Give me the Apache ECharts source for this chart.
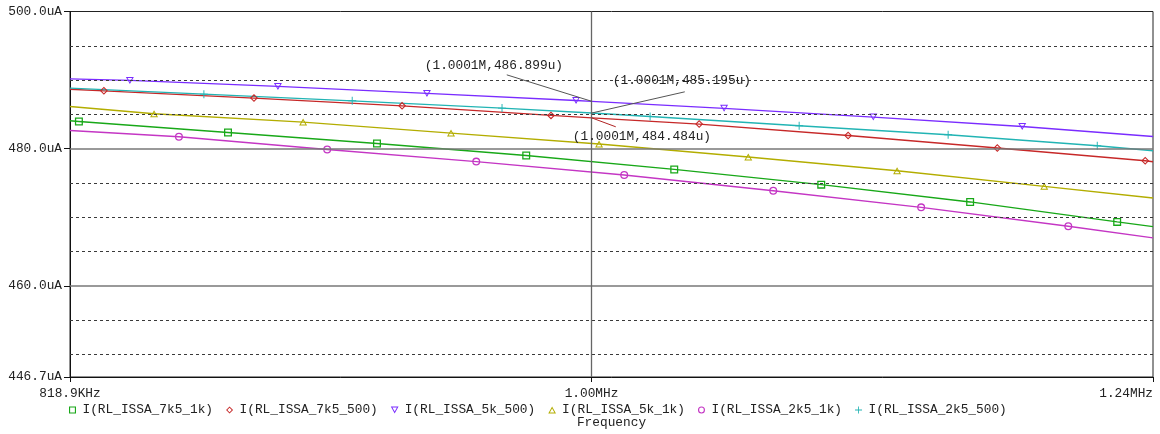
<!DOCTYPE html>
<html>
<head>
<meta charset="utf-8">
<script src="https://cdn.jsdelivr.net/npm/echarts@6/dist/echarts.min.js"></script>
<style>
  html, body { margin: 0; padding: 0; background: #fff; }
  #chart { width: 1160px; height: 434px; }
</style>
</head>
<body>
<div id="chart"></div>
<script>
// Load current versus frequency (kHz, uA) for each resistor combination
const f7k5_1k  = [818.9, 821.7, 870.0, 921.1, 975.3, 1032.2, 1092.0, 1156.1, 1223.1, 1240.0];
const i7k5_1k  = [484.06, 483.96, 482.36, 480.76, 479.01, 476.97, 474.75, 472.23, 469.32, 468.63];

const f7k5_500 = [818.9, 829.6, 878.7, 930.0, 984.6, 1000.1, 1042.1, 1103.3, 1168.2, 1236.3, 1240.0];
const i7k5_500 = [488.67, 488.43, 487.37, 486.24, 484.85, 484.484, 483.58, 481.92, 480.09, 478.24, 478.09];

const f5k_500  = [818.9, 837.9, 886.8, 938.9, 994.1, 1000.1, 1052.1, 1114.0, 1179.4, 1240.0];
const i5k_500  = [490.17, 489.95, 489.08, 488.06, 487.02, 486.899, 485.88, 484.60, 483.23, 481.78];

const f5k_1k   = [818.9, 845.7, 895.4, 947.6, 1002.9, 1061.9, 1124.2, 1189.4, 1240.0];
const i5k_1k   = [486.14, 485.08, 483.87, 482.27, 480.67, 478.78, 476.78, 474.50, 472.81];

const f2k5_1k  = [818.9, 853.8, 903.7, 956.8, 1012.6, 1072.1, 1134.6, 1200.4, 1240.0];
const i2k5_1k  = [482.65, 481.73, 479.87, 478.11, 476.16, 473.87, 471.44, 468.68, 466.99];

const f2k5_500 = [818.9, 862.0, 912.4, 966.3, 1000.1, 1022.7, 1082.8, 1146.4, 1213.8, 1240.0];
const i2k5_500 = [488.82, 487.95, 486.97, 485.91, 485.195, 484.69, 483.33, 482.02, 480.42, 479.69];

// Axis ticks and grid levels
const xTickValues = [818.9, 1000, 1240];
const xTickLabels = ['818.9KHz', '1.00MHz', '1.24MHz'];
const yTickValues = [446.7, 460, 480, 500];
const yTickLabels = ['446.7uA', '460.0uA', '480.0uA', '500.0uA'];
const yGridDashed = [450, 455, 465, 470, 475, 485, 490, 495];
const yGridSolid  = [460, 480];
const xGridSolid  = [1000];

// Cursor readouts at 1.0001 MHz
const cursorFreq = 1000.1;
const cursorTraces = ['I(RL_ISSA_5k_500)', 'I(RL_ISSA_2k5_500)', 'I(RL_ISSA_7k5_500)'];
const cursorValues = [486.899, 485.195, 484.484];

const FONT = "'Liberation Mono', 'DejaVu Sans Mono', monospace";
const FS = 12.8;
const TEXT = '#222';

// Hollow marker outlines (outer contour + reversed inner contour)
const SYM = {
  square:   'path://M0,0H10V10H0Z M1.6,1.6V8.4H8.4V1.6Z',
  diamond:  'path://M5,0L10,5L5,10L0,5Z M5,1.9L1.9,5L5,8.1L8.1,5Z',
  triDown:  'path://M0,0H10L5,9Z M2.1,1.3L5,6.5L7.9,1.3Z',
  triUp:    'path://M5,0L10,9H0Z M5,2.5L2.1,7.7H7.9Z',
  circle:   'path://M5,0A5,5 0 1,1 5,10A5,5 0 1,1 5,0Z M5,1.6A3.4,3.4 0 1,0 5,8.4A3.4,3.4 0 1,0 5,1.6Z',
  plus:     'path://M4.4,0H5.6V4.4H10V5.6H5.6V10H4.4V5.6H0V4.4H4.4Z'
};

const traces = [
  { name: 'I(RL_ISSA_7k5_1k)',  f: f7k5_1k,  v: i7k5_1k,  color: '#18a818', symbol: SYM.square,  size: [8, 8] },
  { name: 'I(RL_ISSA_7k5_500)', f: f7k5_500, v: i7k5_500, color: '#c62828', symbol: SYM.diamond, size: [8, 8] },
  { name: 'I(RL_ISSA_5k_500)',  f: f5k_500,  v: i5k_500,  color: '#7a2cff', symbol: SYM.triDown, size: [8, 7] },
  { name: 'I(RL_ISSA_5k_1k)',   f: f5k_1k,   v: i5k_1k,   color: '#b3ad00', symbol: SYM.triUp,   size: [8, 7] },
  { name: 'I(RL_ISSA_2k5_1k)',  f: f2k5_1k,  v: i2k5_1k,  color: '#c436c4', symbol: SYM.circle,  size: [8, 8] },
  { name: 'I(RL_ISSA_2k5_500)', f: f2k5_500, v: i2k5_500, color: '#22b4b4', symbol: SYM.plus,    size: [8, 8] }
];

const lookup = (vals, labels) => (v) => {
  const i = vals.findIndex(t => Math.abs(t - v) <= Math.abs(t) * 1e-4);
  return i >= 0 ? labels[i] : '';
};

const traceSeries = traces.map(t => ({
  type: 'line',
  name: t.name,
  z: 3,
  silent: true,
  animation: false,
  showSymbol: true,
  showAllSymbol: true,
  symbol: t.symbol,
  symbolSize: t.size,
  lineStyle: { color: t.color, width: 1.4 },
  itemStyle: { color: t.color },
  emphasis: { disabled: true },
  data: t.f.map((f, i) => {
    const bare = i === 0 || i === t.f.length - 1 || f === cursorFreq;
    return bare ? { value: [f, t.v[i]], symbol: 'none' } : { value: [f, t.v[i]] };
  })
}));

const gridSeries = {
  type: 'line',
  name: 'grid',
  data: [],
  z: 1,
  silent: true,
  animation: false,
  markLine: {
    silent: true,
    animation: false,
    symbol: ['none', 'none'],
    label: { show: false },
    emphasis: { disabled: true },
    data: [
      ...yGridDashed.map(y => ({ yAxis: y, lineStyle: { type: [3, 3], color: '#3a3a3a', width: 1 } })),
      ...yGridSolid.map(y => ({ yAxis: y, lineStyle: { type: 'solid', color: '#777', width: 1.5 } })),
      ...xGridSolid.map(x => ({ xAxis: x, lineStyle: { type: 'solid', color: '#666', width: 1.3 } }))
    ]
  }
};

const chart = echarts.init(document.getElementById('chart'), null, { renderer: 'canvas' });

chart.setOption({
  animation: false,
  backgroundColor: '#fff',
  textStyle: { fontFamily: FONT },
  grid: {
    left: 70, right: 7, top: 11.5, bottom: 56.7,
    show: true, borderColor: '#222', borderWidth: 1, backgroundColor: '#fff'
  },
  legend: {
    left: 69, top: 403,
    padding: 0,
    itemWidth: 10, itemHeight: 7, itemGap: 13,
    selectedMode: false,
    textStyle: { fontFamily: FONT, fontSize: FS, color: TEXT, lineHeight: 14 },
    data: traces.map(t => ({ name: t.name, icon: t.symbol, itemStyle: { color: t.color } }))
  },
  xAxis: {
    type: 'log',
    logBase: 10,
    min: 818.9,
    max: 1240,
    name: 'Frequency',
    nameLocation: 'middle',
    nameGap: 39,
    nameTextStyle: { fontFamily: FONT, fontSize: FS, color: TEXT },
    axisLine: { show: true, lineStyle: { color: '#111', width: 1 } },
    axisTick: { show: true, inside: false, length: 5, customValues: xTickValues, lineStyle: { color: '#111' } },
    axisLabel: {
      customValues: xTickValues,
      formatter: lookup(xTickValues, xTickLabels),
      margin: 10,
      fontFamily: FONT, fontSize: FS, color: TEXT,
      alignMaxLabel: 'right'
    },
    splitLine: { show: false },
    minorTick: { show: false },
    minorSplitLine: { show: false }
  },
  yAxis: {
    type: 'value',
    min: 446.7,
    max: 500,
    axisLine: { show: true, lineStyle: { color: '#111', width: 1 } },
    axisTick: { show: true, inside: false, length: 6, customValues: yTickValues, lineStyle: { color: '#111' } },
    axisLabel: {
      customValues: yTickValues,
      formatter: lookup(yTickValues, yTickLabels),
      margin: 8,
      fontFamily: FONT, fontSize: FS, color: TEXT
    },
    splitLine: { show: false }
  },
  series: [gridSeries, ...traceSeries]
});

// Cursor readout labels with leader lines, anchored on the traces at 1.0001 MHz
const readoutLayout = [
  { tx: -167, ty: -35.5, lx: -85, ly: -26.5, line: '#555' },
  { tx: 21,   ty: -32.7, lx: 93,  ly: -21.2, line: '#555' },
  { tx: -19,  ty: 18.9,  lx: 24,  ly: 8.9,   line: '#b02222' }
];
const fmtFreq = (k) => (k / 1000).toFixed(4).replace(/0+$/, '') + 'M';
const graphics = [];
cursorValues.forEach((v, i) => {
  const p = chart.convertToPixel({ xAxisIndex: 0, yAxisIndex: 0 }, [cursorFreq, v]);
  const L = readoutLayout[i];
  graphics.push({
    type: 'line', z: 10, silent: true,
    shape: { x1: p[0], y1: p[1], x2: p[0] + L.lx, y2: p[1] + L.ly },
    style: { stroke: L.line, lineWidth: 1 }
  });
  graphics.push({
    type: 'text', z: 11, silent: true,
    x: p[0] + L.tx, y: p[1] + L.ty,
    style: {
      text: '(' + fmtFreq(cursorFreq) + ',' + v.toFixed(3) + 'u)',
      fontFamily: FONT, fontSize: FS, fill: TEXT,
      align: 'left', verticalAlign: 'middle'
    }
  });
});
chart.setOption({ graphic: graphics });
</script>
</body>
</html>
